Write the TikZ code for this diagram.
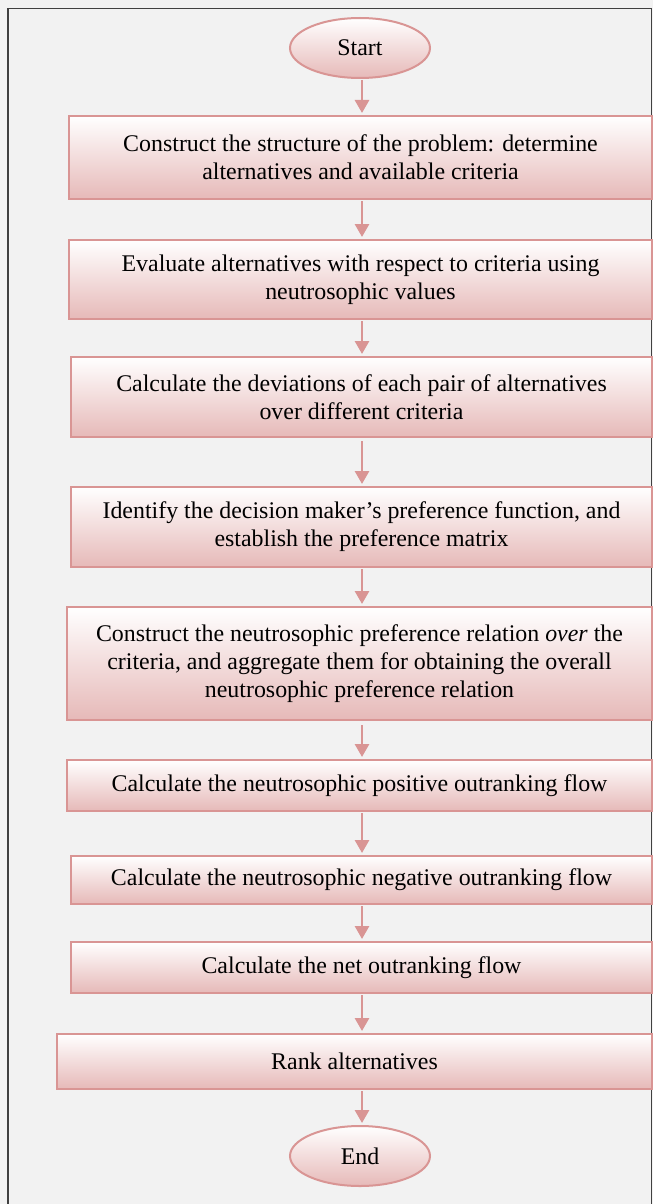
\documentclass[tikz,border=0pt]{standalone}
\usepackage{fontspec}
\setmainfont{Liberation Serif}
\usetikzlibrary{shapes.geometric,arrows.meta}
\definecolor{pinkedge}{HTML}{D99594}
\definecolor{pinkfill}{HTML}{E6B9B8}
\definecolor{bgc}{HTML}{F2F2F2}
\begin{document}
\begin{tikzpicture}[x=1pt,y=-1pt,
  stepbox/.style={draw=pinkedge, line width=2pt, top color=white, bottom color=pinkfill,
    shading angle=0, align=center, inner sep=0pt, font=\fontsize{23.9}{28}\selectfont},
  term/.style={ellipse, draw=pinkedge, line width=2pt, top color=white, bottom color=pinkfill,
    minimum width=140pt, minimum height=60pt, inner sep=0pt, font=\fontsize{23.9}{28}\selectfont},
  arr/.style={draw=pinkedge, line width=2.8pt, -{Triangle[width=14pt,length=13pt]}, shorten <=1pt, shorten >=2pt}]
\useasboundingbox (0,0) rectangle (653,1204);
\fill[bgc] (0,0) rectangle (653,1204);
\draw[line width=1.3pt, draw=black!75, fill=bgc] (8,8.5) rectangle (651.5,1215);
\coordinate (ax) at (362,0);
\node[term] (start) at (360,48) {Start};
\node[stepbox, minimum width=583pt, minimum height=83pt] (b1) at (360.5,157.5)
  {Construct the structure of the problem: determine\\alternatives and available criteria};
\node[stepbox, minimum width=583pt, minimum height=79pt] (b2) at (360.5,279.5)
  {Evaluate alternatives with respect to criteria using\\neutrosophic values};
\node[stepbox, minimum width=581pt, minimum height=80pt] (b3) at (361.5,397)
  {Calculate the deviations of each pair of alternatives\\over different criteria};
\node[stepbox, minimum width=581pt, minimum height=80pt] (b4) at (361.5,527)
  {Identify the decision maker’s preference function, and\\establish the preference matrix};
\node[stepbox, minimum width=585pt, minimum height=113pt] (b5) at (359.5,663.5)
  {Construct the neutrosophic preference relation \textit{over} the\\criteria, and aggregate them for obtaining the overall\\neutrosophic preference relation};
\node[stepbox, minimum width=585pt, minimum height=51pt] (b6) at (359.5,785.5)
  {Calculate the neutrosophic positive outranking flow};
\node[stepbox, minimum width=581pt, minimum height=48pt] (b7) at (361.5,880)
  {Calculate the neutrosophic negative outranking flow};
\node[stepbox, minimum width=581pt, minimum height=51pt] (b8) at (361.5,967.5)
  {Calculate the net outranking flow};
\node[stepbox, minimum width=595pt, minimum height=55pt] (b9) at (354.5,1061.5)
  {Rank alternatives};
\node[term] (end) at (360,1156) {End};
\draw[arr] (start.south -| ax) -- (b1.north -| ax);
\draw[arr] (b1.south -| ax) -- (b2.north -| ax);
\draw[arr] (b2.south -| ax) -- (b3.north -| ax);
\draw[arr, shorten <=3pt] (b3.south -| ax) -- (b4.north -| ax);
\draw[arr] (b4.south -| ax) -- (b5.north -| ax);
\draw[arr, shorten <=4pt] (b5.south -| ax) -- (b6.north -| ax);
\draw[arr] (b6.south -| ax) -- (b7.north -| ax);
\draw[arr] (b7.south -| ax) -- (b8.north -| ax);
\draw[arr] (b8.south -| ax) -- (b9.north -| ax);
\draw[arr] (b9.south -| ax) -- (end.north -| ax);
\end{tikzpicture}
\end{document}
